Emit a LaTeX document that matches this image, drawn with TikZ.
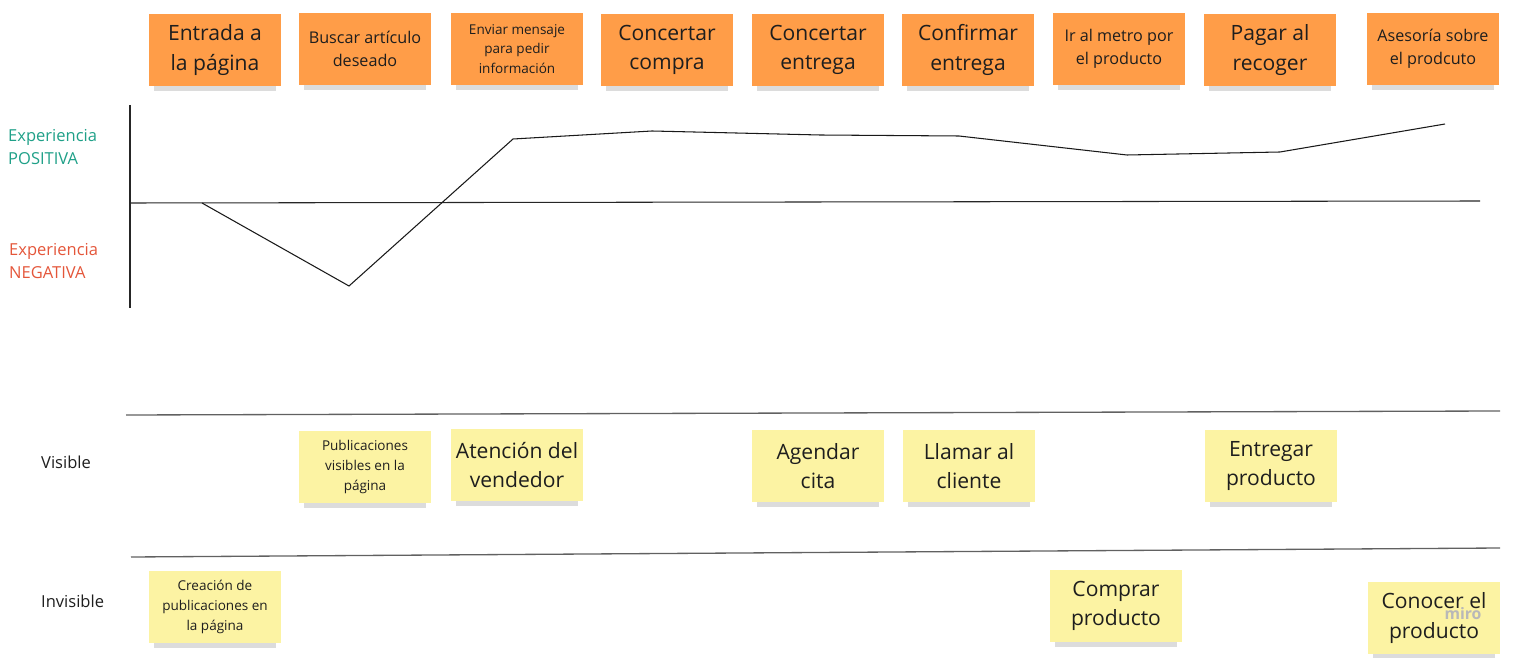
\documentclass[tikz,border=0pt]{standalone}
\usepackage{fontspec}
\setmainfont{Open Sans}
\usetikzlibrary{shadows}

\definecolor{notaNaranja}{HTML}{FF9D48}
\definecolor{notaAmarilla}{HTML}{FCF3A3}
\definecolor{textoNota}{HTML}{1E1E1E}
\definecolor{verdePos}{HTML}{1FA088}
\definecolor{rojoNeg}{HTML}{E4563A}
\definecolor{lineaGris}{HTML}{3A3A3A}

\newcommand{\letraGrande}{\fontsize{12}{16.8}\selectfont}
\newcommand{\letraMedia}{\fontsize{9.2}{13}\selectfont}
\newcommand{\letraChica}{\fontsize{7.7}{11.3}\selectfont}
\newcommand{\letraEtiqueta}{\fontsize{9.4}{13.6}\selectfont}

\begin{document}
\begin{tikzpicture}[x=0.02cm, y=-0.02cm,
  nota/.style={minimum width=2.64cm, minimum height=1.44cm, inner sep=0pt,
    align=center, text=textoNota,
    drop shadow={shadow xshift=0pt, shadow yshift=-4.5pt, shadow scale=0.93, opacity=0.28}},
  notaN/.style={nota, fill=notaNaranja},
  notaA/.style={nota, fill=notaAmarilla},
  grande/.style={font=\letraGrande},
  media/.style={font=\letraMedia},
  chica/.style={font=\letraChica},
  carril/.style={draw=lineaGris!80, line width=0.75pt}]
  \useasboundingbox (0,0) rectangle (1518,658);

  % Etapas del recorrido (notas naranjas)
  \node[notaN, grande] (entrada) at (215,50) {Entrada a\\la página};
  \node[notaN, media] (buscar) at (365,49) {Buscar artículo\\deseado};
  \node[notaN, chica] (enviar) at (517,49) {Enviar mensaje\\para pedir\\información};
  \node[notaN, grande] (compra) at (667,50) {Concertar\\compra};
  \node[notaN, grande] (centrega) at (818,50) {Concertar\\entrega};
  \node[notaN, grande] (confirmar) at (968,50) {Confirmar\\entrega};
  \node[notaN, media] (metro) at (1119,49) {Ir al metro por\\el producto};
  \node[notaN, grande] (pagar) at (1270,50) {Pagar al\\recoger};
  \node[notaN, media] (asesoria) at (1433,49) {Asesoría sobre\\el prodcuto};

  % Ejes de la experiencia
  \coordinate (ejeArriba) at (130,105);
  \coordinate (ejeAbajo) at (130,308);
  \coordinate (ceroIzq) at (130,203);
  \coordinate (ceroDer) at (1480,201);
  \draw[black!85, line width=0.6pt] (ejeArriba) -- (ejeAbajo);
  \draw[black!85, line width=0.6pt] (ceroIzq) -- (ceroDer);
  \node[anchor=west, align=left, text=verdePos, font=\letraEtiqueta] (positiva) at (2,147)
    {Experiencia\\POSITIVA};
  \node[anchor=west, align=left, text=rojoNeg, font=\letraEtiqueta] (negativa) at (3,261)
    {Experiencia\\NEGATIVA};

  % Curva de la experiencia
  \coordinate (c1) at (202,203);
  \coordinate (c2) at (349,286);
  \coordinate (c3) at (513,139);
  \coordinate (c4) at (652,131);
  \coordinate (c5) at (820,135);
  \coordinate (c6) at (959,136);
  \coordinate (c7) at (1127,155);
  \coordinate (c8) at (1280,152);
  \coordinate (c9) at (1445,124);
  \draw[black!90, line width=0.6pt] (c1) -- (c2) -- (c3) -- (c4) -- (c5) -- (c6) -- (c7) -- (c8) -- (c9);

  % Carriles visible / invisible
  \coordinate (l1a) at (126,415);
  \coordinate (l1b) at (1500,411);
  \coordinate (l2a) at (131,557);
  \coordinate (l2b) at (1500,548);
  \draw[carril] (l1a) -- (l1b);
  \draw[carril] (l2a) -- (l2b);
  \node[anchor=west, text=textoNota, font=\letraEtiqueta] (visible) at (35,462) {Visible};
  \node[anchor=west, text=textoNota, font=\letraEtiqueta] (invisible) at (35,601) {Invisible};

  % Notas visibles
  \node[notaA, chica] (publicaciones) at (365,467) {Publicaciones\\visibles en la\\página};
  \node[notaA, grande] (atencion) at (517,465) {Atención del\\vendedor};
  \node[notaA, grande] (agendar) at (818,466) {Agendar\\cita};
  \node[notaA, grande] (llamar) at (969,466) {Llamar al\\cliente};
  \node[notaA, grande] (entregar) at (1271,466) {Entregar\\producto};

  % Notas invisibles
  \node[notaA, chica] (creacion) at (215,607) {Creación de\\publicaciones en\\la página};
  \node[notaA, grande] (comprar) at (1116,606) {Comprar\\producto};
  \node[notaA, grande] (conocer) at (1434,618) {Conocer el\\producto};
  \node[text=black!28, font=\bfseries\fontsize{9}{10}\selectfont, inner sep=0pt] (miro) at (1463,614) {miro};
\end{tikzpicture}
\end{document}
